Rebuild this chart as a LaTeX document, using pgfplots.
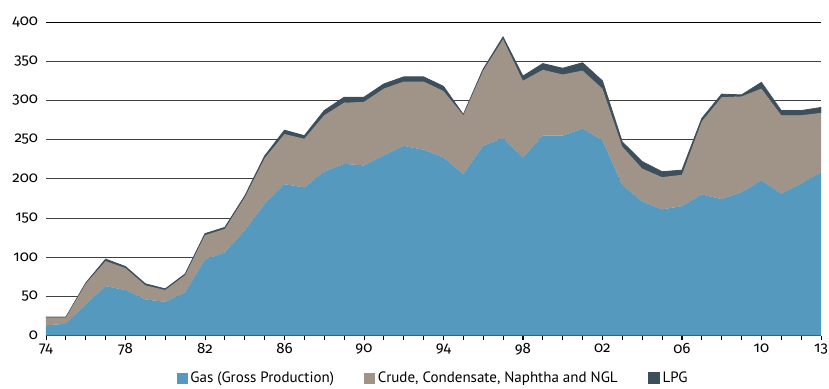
\documentclass[border=0pt]{standalone}
\usepackage{pgfplots}
\usepackage{pgfplotstable}
\pgfplotsset{compat=1.18}
\usepackage{fontspec}
\setmainfont{Fira Sans}[Numbers=OldStyle]
\newfontfamily\legfont{PT Sans}
\definecolor{gasblue}{HTML}{5599BE}
\definecolor{crude}{HTML}{A09488}
\definecolor{lpg}{HTML}{3D4F5B}
\pgfplotstableread{
year gas crude lpg
1974 13 10 0.5
1975 15 8 0.5
1976 40 26 1
1977 63 32 2.5
1978 58 28 2
1979 46 18 2
1980 43 15 1.5
1981 55 22 1.5
1982 97 31 2
1983 106 30 2
1984 134 42 2
1985 168 58 3
1986 193 64 5
1987 189 62 4
1988 209 72 6
1989 219 78 7
1990 217 81 6
1991 230 85 6
1992 242 82 6
1993 237 87 6
1994 227 85 6
1995 206 75 1
1996 242 96 2
1997 252 126 3
1998 227 98 6
1999 255 84 8
2000 255 78 8
2001 264 74 10
2002 249 66 10
2003 192 49 6
2004 171 42 9
2005 161 41 7
2006 165 40 6
2007 180 93 4
2008 174 130 4
2009 183 122 2
2010 198 117 8
2011 181 100 6
2012 194 87 6
2013 208 76 7
}\datatable
\begin{document}
\begin{tikzpicture}
\begin{axis}[
  scale only axis, width=775pt, height=313.5pt,
  xmin=1974, xmax=2013, ymin=0, ymax=400,
  stack plots=y,
  axis x line*=bottom, axis y line*=left,
  y axis line style={draw=none},
  x axis line style={line width=1pt},
  xtick={1974,1978,1982,1986,1990,1994,1998,2002,2006,2010,2013},
  xticklabels={74,78,82,86,90,94,98,02,06,10,13},
  minor xtick={1974,...,2013},
  tick align=outside,
  major tick length=4.5pt, minor tick length=4.5pt,
  xtick style={black, line width=0.8pt},
  minor tick style={black, line width=0.8pt},
  ytick={0,50,...,400},
  ytick style={draw=none},
  ymajorgrids,
  grid style={line width=0.7pt, black!75},
  /pgf/number format/assume math mode=true,
  tick label style={font=\fontsize{15}{17}\selectfont},
  yticklabel style={xshift=0pt},
  xticklabel style={overlay, yshift=0pt},
  legend columns=3,
  legend style={at={(0.5,-0.1356)}, anchor=center, draw=none, fill=none,
    font=\legfont\fontsize{15}{17}\selectfont,
    /tikz/every even column/.append style={column sep=28pt},
    nodes={inner xsep=2.5pt}},
  legend image code/.code={\fill[#1] (0pt,-5.5pt) rectangle (11pt,5.5pt);},
]
\addplot[fill=gasblue, draw=none] table[x=year,y=gas] {\datatable} \closedcycle;
\addplot[fill=crude, draw=none] table[x=year,y=crude] {\datatable} \closedcycle;
\addplot[fill=lpg, draw=lpg, line width=0.8pt] table[x=year,y=lpg] {\datatable} \closedcycle;
\legend{Gas (Gross Production), {Crude, Condensate, Naphtha and NGL}, LPG}
\draw[line width=2.5pt] (rel axis cs:0,0) -- (rel axis cs:1,0);
\draw[line width=0.8pt] (rel axis cs:0,1) -- (rel axis cs:1,1);
\end{axis}
\pgfresetboundingbox
\path ([shift={(-46pt,-52.5pt)}]current axis.south west) rectangle ([shift={(8pt,22pt)}]current axis.north east);
\end{tikzpicture}
\end{document}
